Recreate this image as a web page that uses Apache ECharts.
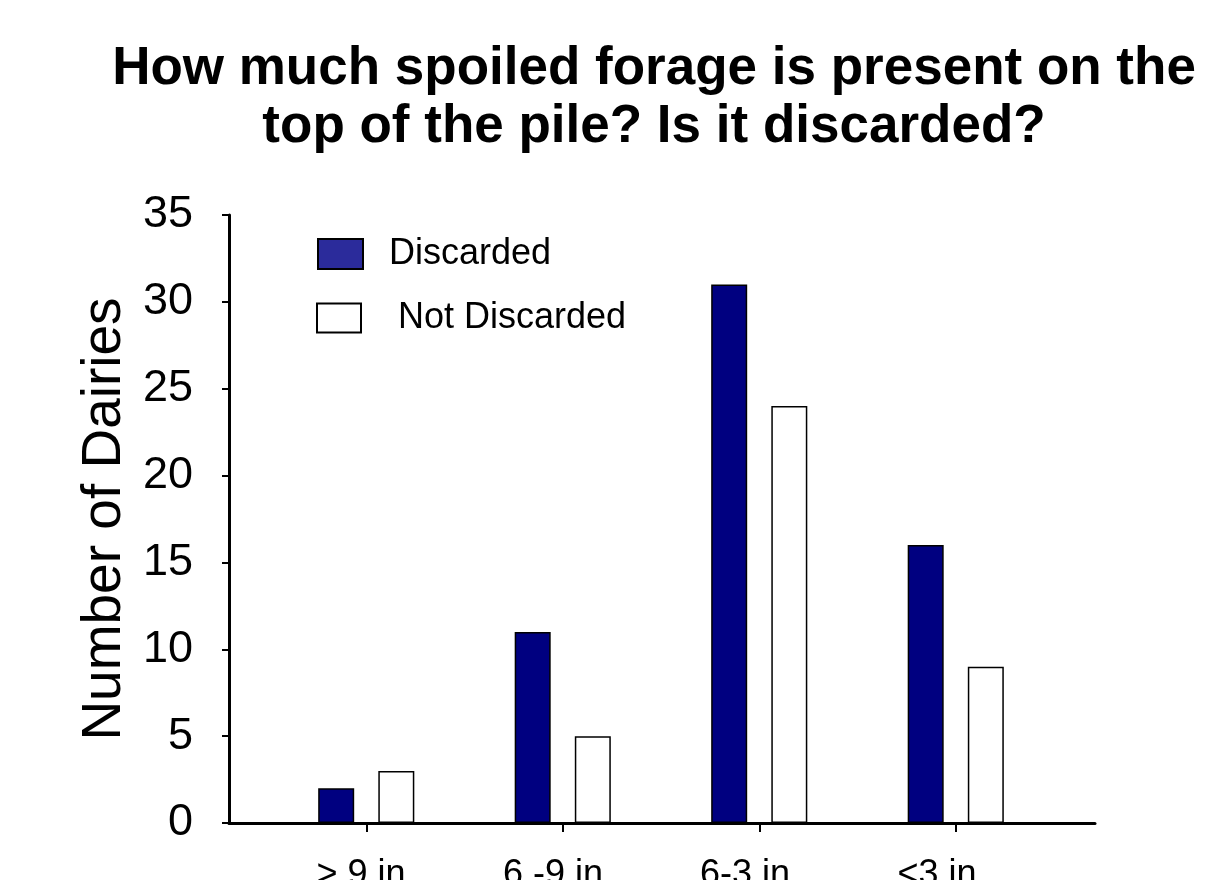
<!DOCTYPE html>
<html>
<head>
<meta charset="utf-8">
<script src="https://cdn.jsdelivr.net/npm/echarts@6/dist/echarts.min.js"></script>
<style>
html,body{margin:0;padding:0;background:#fff;}
#chart{width:1209px;height:880px;}
</style>
</head>
<body>
<div id="chart"></div>
<script>
const categories = ['> 9 in', '6 -9 in', '6-3 in', '<3 in'];
const discarded = [2, 11, 31, 16];
const notDiscarded = [3, 5, 24, 9];
const yTicks = [0, 5, 10, 15, 20, 25, 30, 35];

const FONT = 'Liberation Sans, Arial, Helvetica, sans-serif';
const chart = echarts.init(document.getElementById('chart'), null, {renderer: 'canvas'});

const option = {
  backgroundColor: '#ffffff',
  animation: false,
  title: {
    text: 'How much spoiled forage is present on the\ntop of the pile? Is it discarded?',
    left: 654,
    top: 40,
    padding: 0,
    textAlign: 'center',
    textStyle: {fontFamily: FONT, fontSize: 53, fontWeight: 'bold', color: '#000', lineHeight: 58}
  },
  legend: [
    {
      data: [{name: 'Discarded', itemStyle: {color: '#2b2b9b', borderColor: '#000', borderWidth: 2}}],
      left: 317, top: 236, padding: 0,
      icon: 'rect', itemWidth: 45, itemHeight: 30,
      selectedMode: false,
      textStyle: {fontFamily: FONT, fontSize: 36, color: '#000', padding: [0, 0, 0, 21]}
    },
    {
      data: [{name: 'Not Discarded', itemStyle: {color: '#ffffff', borderColor: '#000', borderWidth: 2}}],
      left: 316, top: 300, padding: 0,
      icon: 'rect', itemWidth: 44, itemHeight: 29,
      selectedMode: false,
      textStyle: {fontFamily: FONT, fontSize: 36, color: '#000', padding: [0, 0, 0, 32]}
    }
  ],
  grid: [
    {left: 229, right: 114, top: 215, bottom: 57, outerBoundsMode: 'none', containLabel: false},
    {left: 268, width: 786, top: 215, bottom: 57, outerBoundsMode: 'none', containLabel: false},
    {left: 265, width: 768, top: 215, bottom: 57, outerBoundsMode: 'none', containLabel: false}
  ],
  xAxis: [
    {
      type: 'value', gridIndex: 0, min: 0, max: 1,
      axisLine: {show: true, lineStyle: {color: '#000', width: 3}},
      axisTick: {show: false}, axisLabel: {show: false}, splitLine: {show: false}
    },
    {
      type: 'category', gridIndex: 1, data: categories,
      axisLine: {show: false},
      axisTick: {show: true, alignWithLabel: true, length: 9, lineStyle: {color: '#000', width: 2}},
      axisLabel: {show: false}, splitLine: {show: false}
    },
    {
      type: 'category', gridIndex: 2, data: categories,
      axisLine: {show: false}, axisTick: {show: false},
      axisLabel: {show: true, interval: 0, margin: 34, fontFamily: FONT, fontSize: 36, color: '#000'},
      splitLine: {show: false}
    }
  ],
  yAxis: [
    {
      type: 'value', gridIndex: 0, min: yTicks[0], max: yTicks[yTicks.length - 1], interval: 5,
      name: 'Number of Dairies', nameLocation: 'middle', nameGap: 76, nameRotate: 90,
      nameTextStyle: {fontFamily: FONT, fontSize: 55, color: '#000'},
      axisLine: {show: true, lineStyle: {color: '#000', width: 3}},
      axisTick: {show: true, inside: false, length: 7, lineStyle: {color: '#000', width: 2}},
      axisLabel: {margin: 36, fontFamily: FONT, fontSize: 45, color: '#000'},
      splitLine: {show: false}
    },
    {type: 'value', gridIndex: 1, min: 0, max: 35, show: false},
    {type: 'value', gridIndex: 2, min: 0, max: 35, show: false}
  ],
  series: [
    {
      name: 'Discarded', type: 'bar', xAxisIndex: 1, yAxisIndex: 1,
      data: discarded, barWidth: 36, barGap: '67%',
      itemStyle: {color: '#000080', borderColor: '#000', borderWidth: 1.5}
    },
    {
      name: 'Not Discarded', type: 'bar', xAxisIndex: 1, yAxisIndex: 1,
      data: notDiscarded, barWidth: 36, barGap: '67%',
      itemStyle: {color: '#ffffff', borderColor: '#000', borderWidth: 1.5}
    }
  ]
};
chart.setOption(option);
</script>
</body>
</html>
